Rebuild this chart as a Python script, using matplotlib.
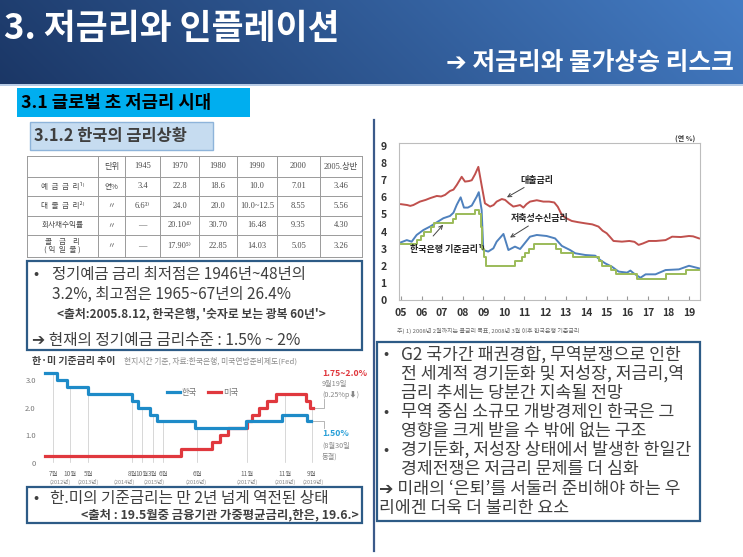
import numpy as np
import matplotlib
matplotlib.use('Agg')
import matplotlib.pyplot as plt
from matplotlib.patches import Rectangle
from matplotlib.lines import Line2D

W, H = 743, 557
KR = ['Noto Sans CJK KR', 'DejaVu Sans']
plt.rcParams['font.family'] = KR

# ---------------- data ----------------
# right chart: 대출금리 / 저축성수신금리 / 한국은행 기준금리 (연 %)
loan_x = [2005.0, 2005.3, 2005.45, 2005.6, 2005.92, 2006.2, 2006.41, 2006.74, 2006.95, 2007.14,
          2007.38, 2007.55, 2007.71, 2007.95, 2008.11, 2008.3, 2008.44, 2008.6, 2008.76, 2008.92,
          2009.08, 2009.33, 2009.5, 2009.65, 2009.9, 2010.06, 2010.25, 2010.46, 2010.62, 2010.79,
          2010.95, 2011.1, 2011.27, 2011.6, 2011.92, 2012.2, 2012.45, 2012.62, 2012.82, 2013.0,
          2013.3, 2013.6, 2013.96, 2014.3, 2014.6, 2014.8, 2015.0, 2015.15, 2015.33, 2015.74,
          2016.1, 2016.35, 2016.55, 2016.75, 2017.05, 2017.4, 2017.86, 2018.18, 2018.6, 2019.0,
          2019.2, 2019.49]
loan_y = [5.6, 5.55, 5.5, 5.55, 5.75, 5.85, 5.95, 6.08, 6.05, 6.14,
          6.37, 6.45, 6.72, 7.2, 6.92, 6.95, 7.0, 7.35, 7.78, 6.7,
          5.65, 5.46, 5.55, 5.75, 5.9, 5.85, 5.65, 5.46, 5.5, 5.55,
          5.4, 5.6, 5.75, 5.83, 5.75, 5.75, 5.7, 5.45, 4.97, 4.8,
          4.62, 4.55, 4.48, 4.42, 4.29, 4.05, 3.9, 3.7, 3.45, 3.41,
          3.45, 3.4, 3.22, 3.3, 3.45, 3.45, 3.5, 3.7, 3.68, 3.74,
          3.72, 3.6]
dep_x = [2005.0, 2005.28, 2005.52, 2005.76, 2006.09, 2006.41, 2006.74, 2007.06, 2007.38, 2007.55,
         2007.71, 2007.9, 2008.06, 2008.25, 2008.44, 2008.68, 2008.78, 2008.92, 2009.0, 2009.24,
         2009.49, 2009.65, 2009.98, 2010.22, 2010.54, 2010.79, 2010.95, 2011.27, 2011.6, 2012.08,
         2012.49, 2012.82, 2013.22, 2013.47, 2013.96, 2014.44, 2014.68, 2014.93, 2015.25, 2015.58,
         2015.99, 2016.15, 2016.31, 2016.64, 2016.89, 2017.37, 2017.86, 2018.51, 2019.0, 2019.49]
dep_y = [3.37, 3.5, 3.41, 3.8, 4.09, 4.29, 4.54, 4.78, 4.91, 5.1,
         5.56, 6.0, 5.4, 5.4, 5.52, 6.04, 6.3, 5.26, 2.92, 2.83,
         3.02, 3.41, 3.86, 2.92, 3.12, 2.98, 3.22, 3.7, 3.8, 3.74,
         3.6, 3.16, 2.92, 2.73, 2.63, 2.59, 2.34, 2.14, 1.95, 1.66,
         1.6, 1.72, 1.56, 1.3, 1.5, 1.5, 1.75, 1.79, 2.0, 1.85]
base_x = [2005.0, 2005.8, 2005.95, 2006.12, 2006.45, 2006.62, 2007.55, 2007.65, 2008.62, 2008.8,
          2008.87, 2008.95, 2009.05, 2009.12, 2010.55, 2010.88, 2011.05, 2011.2, 2011.45, 2012.55,
          2012.8, 2013.37, 2014.62, 2014.79, 2015.2, 2015.45, 2016.45, 2017.87, 2018.87, 2019.49]
base_y = [3.25, 3.5, 3.75, 4.0, 4.25, 4.5, 4.75, 5.0, 5.25, 5.0,
          4.25, 3.0, 2.5, 2.0, 2.25, 2.5, 2.75, 3.0, 3.25, 3.0,
          2.75, 2.5, 2.25, 2.0, 1.75, 1.5, 1.25, 1.5, 1.75, 1.75]
r_years = list(range(2005, 2020))
r_labels = ['05', '06', '07', '08', '09', '10', '11', '12', '13', '14', '15', '16', '17', '18', '19']
r_yticks = [0, 1, 2, 3, 4, 5, 6, 7, 8, 9]

# left chart: 한·미 기준금리
kr_x = [2012.28, 2012.6, 2012.88, 2013.48, 2014.68, 2014.86, 2015.19, 2015.37, 2016.43, 2017.85,
        2018.84, 2019.54, 2019.64]
kr_y = [3.25, 3.0, 2.75, 2.5, 2.25, 2.0, 1.75, 1.5, 1.25, 1.5,
        1.75, 1.5, 1.5]
us_x = [2012.28, 2016.05, 2016.9, 2017.12, 2017.35, 2017.87, 2018.02, 2018.2, 2018.43, 2018.68,
        2019.5, 2019.62, 2019.7]
us_y = [0.25, 0.5, 0.75, 1.0, 1.25, 1.5, 1.75, 2.0, 2.25, 2.5,
        2.25, 2.0, 2.0]
l_ticks = [2012.5, 2012.97, 2013.47, 2014.69, 2014.97, 2015.27, 2015.55, 2016.49, 2017.87, 2018.93, 2019.67]
l_months = ['7월', '10월', '5월', '8월', '10월', '3월', '6월', '6월', '11월', '11월', '9월']
l_year_pos = [2012.69, 2013.47, 2014.47, 2015.3, 2016.46, 2017.87, 2018.93, 2019.7]
l_years = ['(2012년)', '(2013년)', '(2014년)', '(2015년)', '(2016년)', '(2017년)', '(2018년)', '(2019년)']
l_yticks = [0, 1.0, 2.0, 3.0]
l_ytlabels = ['0', '1.0', '2.0', '3.0']

# table
tbl_head = ['', '단위', '1945', '1970', '1980', '1990', '2000', '2005.상반']
tbl_labels = ['예  금  금  리¹⁾', '대  출  금  리²⁾', '회사채수익률', '콜    금    리\n( 익  일  물 )']
tbl_units = ['연%', '〃', '〃', '〃']
tbl_vals = [['3.4', '22.8', '18.6', '10.0', '7.01', '3.46'],
            ['6.6³⁾', '24.0', '20.0', '10.0~12.5', '8.55', '5.56'],
            ['—', '20.10⁴⁾', '30.70', '16.48', '9.35', '4.30'],
            ['—', '17.90⁵⁾', '22.85', '14.03', '5.05', '3.26']]

# ---------------- helpers ----------------
fig = plt.figure(figsize=(W / 100, H / 100), dpi=100)
fig.patch.set_facecolor('white')


def add_ax(x0, y0, x1, y1, **kw):
    return fig.add_axes([x0 / W, 1 - y1 / H, (x1 - x0) / W, (y1 - y0) / H], **kw)


def txt(x, y, s, **kw):
    kw.setdefault('va', 'center')
    kw.setdefault('ha', 'left')
    return fig.text(x / W, 1 - y / H, s, **kw)


def rect(x0, y0, x1, y1, **kw):
    r = Rectangle((x0 / W, 1 - y1 / H), (x1 - x0) / W, (y1 - y0) / H,
                  transform=fig.transFigure, **kw)
    fig.patches.append(r)
    return r


def fline(xs, ys, **kw):
    fig.add_artist(Line2D([x / W for x in xs], [1 - y / H for y in ys],
                          transform=fig.transFigure, **kw))


GRAY = '#3f3f3f'
BOX = '#2d5b86'

# ---------------- header ----------------
axh = add_ax(0, 0, W, 84)
gx = np.linspace(0, 1, 400)[None, :]
gy = np.linspace(0, 1, 60)[:, None]
t = np.clip(0.9 * gx + 0.1 * (1 - gy), 0, 1)
c0 = np.array([0x1b, 0x37, 0x66]) / 255
c1 = np.array([0x44, 0x7c, 0xc4]) / 255
img = c0[None, None, :] * (1 - t[..., None]) + c1[None, None, :] * t[..., None]
axh.imshow(img, aspect='auto', extent=[0, 1, 0, 1])
axh.set_axis_off()
fline([0, W], [85, 85], color='#a9c1e0', lw=1.2)
txt(4, 29, '3. 저금리와 인플레이션', color='white', fontsize=25, fontweight='bold')
txt(446, 63, '➔ 저금리와 물가상승 리스크', color='white', fontsize=17.8, fontweight='bold')

# section box
rect(17, 88, 250, 117, facecolor='#00aeef', edgecolor='none')
txt(21, 102.5, '3.1 글로벌 초 저금리 시대', color='black', fontsize=12.8, fontweight='bold')

# sub-section box
rect(30, 122, 213, 150, facecolor='#c6dcf0', edgecolor='#8eb4da', lw=1)
txt(34, 136, '3.1.2 한국의 금리상황', color=GRAY, fontsize=11.8, fontweight='bold')

# ---------------- table ----------------
col_edges = [27, 98, 125, 160, 199, 237, 277, 320, 362]
row_edges = [156, 177, 196, 216, 235, 257]
for y in row_edges:
    fline([col_edges[0], col_edges[-1]], [y, y], color='#9a9a9a', lw=0.7)
for x in col_edges:
    fline([x, x], [row_edges[0], row_edges[-1]], color='#9a9a9a', lw=0.7)
SERIF = ['Liberation Serif', 'DejaVu Serif', 'Noto Sans CJK KR']
TC = '#4a4a4a'
for j, h in enumerate(tbl_head):
    cx = (col_edges[j] + col_edges[j + 1]) / 2
    cy = (row_edges[0] + row_edges[1]) / 2
    txt(cx, cy, h, ha='center', fontsize=6, color=TC, family=SERIF if j > 1 else KR)
for i in range(len(tbl_labels)):
    cy = (row_edges[i + 1] + row_edges[i + 2]) / 2
    txt((col_edges[0] + col_edges[1]) / 2, cy, tbl_labels[i], ha='center', fontsize=5.5,
        color=TC, linespacing=1.0)
    txt((col_edges[1] + col_edges[2]) / 2, cy, tbl_units[i], ha='center', fontsize=5.5, color=TC)
    for j, v in enumerate(tbl_vals[i]):
        cx = (col_edges[j + 2] + col_edges[j + 3]) / 2
        txt(cx, cy, v, ha='center', fontsize=6, color=TC, family=['Liberation Serif', 'DejaVu Sans'])

# ---------------- text box 1 ----------------
rect(27, 261, 362, 350, facecolor='none', edgecolor=BOX, lw=1.6)
txt(33, 274, '•', fontsize=11, color=GRAY)
txt(52, 274, '정기예금 금리 최저점은 1946년~48년의', fontsize=11.1, color=GRAY)
txt(52, 294, '3.2%, 최고점은 1965~67년의 26.4%', fontsize=11.1, color=GRAY)
txt(57, 314, "<출처:2005.8.12, 한국은행, '숫자로 보는 광복 60년'>", fontsize=8.5, color=GRAY,
    fontweight='bold')
txt(32, 340, '➔ 현재의 정기예금 금리수준 : 1.5% ~ 2%', fontsize=11.3, color=GRAY)

# ---------------- left chart ----------------
axl = add_ax(40, 370, 318, 468)
l_x0 = 2012.5 + (40 - 53) / 36.1
l_x1 = 2012.5 + (318 - 53) / 36.1
axl.set_xlim(l_x0, l_x1)
axl.set_ylim((463 - 468) / 27.67, (463 - 370) / 27.67)
for s in axl.spines.values():
    s.set_visible(False)
axl.set_xticks([])
axl.set_yticks(l_yticks)
axl.set_yticklabels(l_ytlabels, fontsize=5.5, color='#777777')
axl.tick_params(axis='y', length=0, pad=3)


def step_val(xs, ys, d):
    k = int(np.searchsorted(xs, d, side='right')) - 1
    k = max(0, min(k, len(ys) - 1))
    return ys[k]


for d in l_ticks:
    top = max(step_val(kr_x, kr_y, d), step_val(us_x, us_y, d))
    axl.plot([d, d], [0.05, top], color='#c8c8c8', lw=0.5, zorder=1)
axl.plot(us_x, us_y, drawstyle='steps-post', color='#e0383e', lw=2.3, zorder=3)
axl.plot(kr_x, kr_y, drawstyle='steps-post', color='#1e8bc8', lw=2.3, zorder=4)
for d, m in zip(l_ticks, l_months):
    axl.text(d, -0.02, m, transform=axl.get_xaxis_transform(), ha='center', va='top',
             fontsize=4.6, color='#666666')
for d, yl in zip(l_year_pos, l_years):
    axl.text(d, -0.115, yl, transform=axl.get_xaxis_transform(), ha='center', va='top',
             fontsize=4.0, color='#888888')
# leaders
axl.plot([us_x[-1], 2020.02, 2020.02], [us_y[-1], us_y[-1], 2.3], color='#aaaaaa', lw=0.6,
         clip_on=False)
axl.plot([kr_x[-1], 2020.02, 2020.02], [kr_y[-1], kr_y[-1], 1.25], color='#aaaaaa', lw=0.6,
         clip_on=False)

txt(32, 361, '한·미 기준금리 추이', fontsize=7.2, fontweight='bold', color='#444444')
txt(124, 361, '현지시간 기준, 자료:한국은행, 미국연방준비제도(Fed)', fontsize=5.6, color='#8a8a8a')
# legend
fline([167, 180], [392, 392], color='#1e8bc8', lw=2.3)
txt(182, 392, '한국', fontsize=6, color='#777777')
fline([208, 221], [392, 392], color='#e0383e', lw=2.3)
txt(223, 392, '미국', fontsize=6, color='#777777')
# right-side notes
txt(322, 373, '1.75~2.0%', fontsize=6.3, color='#e0383e', fontweight='bold')
txt(322, 384, '9월19일', fontsize=5.2, color='#888888')
txt(322, 395, '(0.25%p⬇)', fontsize=5.2, color='#888888')
txt(322, 434, '1.50%', fontsize=6.3, color='#2aa0d8', fontweight='bold')
txt(322, 446, '(8월30일', fontsize=5.2, color='#888888')
txt(322, 457, '동결)', fontsize=5.2, color='#888888')

# ---------------- bottom-left box ----------------
rect(27, 487, 362, 523, facecolor='none', edgecolor=BOX, lw=1.6)
txt(33, 499, '•', fontsize=11, color=GRAY)
txt(50, 499, '한.미의 기준금리는 만 2년 넘게 역전된 상태', fontsize=11.3, color=GRAY)
txt(359, 515, '<출처 : 19.5월중 금융기관 가중평균금리,한은, 19.6.>', ha='right', fontsize=8.9,
    color=GRAY, fontweight='bold')

# ---------------- divider ----------------
fline([374, 374], [120, 551], color='#3b5a8a', lw=1.6)

# ---------------- right chart ----------------
axr = add_ax(399, 143, 700, 300)
axr.plot(loan_x, loan_y, color='#c0504d', lw=1.4)
axr.plot(dep_x, dep_y, color='#4f81bd', lw=1.4)
axr.plot(base_x, base_y, color='#9bbb59', lw=1.4, drawstyle='steps-post')
axr.set_xlim(2005 - 2 / 20.57, 2019 + 11 / 20.57)
axr.set_ylim(0, 9.175)
axr.set_xticks(r_years)
axr.set_xticklabels(r_labels, fontsize=7.5, fontweight='bold', color='#333333')
axr.set_yticks(r_yticks)
axr.set_yticklabels([str(v) for v in r_yticks], fontsize=7.5, fontweight='bold', color='#333333')
axr.tick_params(axis='x', direction='in', length=3, color='#999999', pad=6)
axr.tick_params(axis='y', length=0, pad=9)
for s in axr.spines.values():
    s.set_color('#bdbdbd')
    s.set_linewidth(0.8)
txt(685, 138, '(연 %)', ha='center', fontsize=5, fontweight='bold', color='#333333')

ann_kw = dict(fontsize=6.5, fontweight='bold', color='#222222')
arrow_kw = dict(arrowstyle='->', color='#444444', lw=0.7, shrinkA=0, shrinkB=0)
axr.annotate('대출금리', xy=(2010.15, 6.0), xytext=(2010.8, 7.0), ha='left', va='center',
             arrowprops=arrow_kw, **ann_kw)
axr.annotate('저축성수신금리', xy=(2010.3, 3.65), xytext=(2010.35, 4.75), ha='left', va='center',
             arrowprops=arrow_kw, **ann_kw)
axr.annotate('한국은행 기준금리¹⁾', xy=(2007.05, 4.4), xytext=(2005.45, 2.95), ha='left',
             va='center', arrowprops=dict(arrowstyle='->', color='#444444', lw=0.7,
                                          shrinkA=6, shrinkB=0, relpos=(0.2, 1.0)), **ann_kw)
txt(397, 331, '주) 1) 2008년 2월까지는 콜금리 목표, 2008년 3월 이후 한국은행 기준금리', fontsize=4.3,
    color='#666666')

# ---------------- right text box ----------------
rect(377, 342, 700, 521, facecolor='none', edgecolor=BOX, lw=1.6)
FS = 12.4
rl = [
    (383, 401, 355, '•', 'G2 국가간 패권경합, 무역분쟁으로 인한'),
    (None, 401, 374, None, '전 세계적 경기둔화 및 저성장, 저금리,역'),
    (None, 401, 393, None, '금리 추세는 당분간 지속될 전망'),
    (383, 401, 412, '•', '무역 중심 소규모 개방경제인 한국은 그'),
    (None, 401, 431, None, '영향을 크게 받을 수 밖에 없는 구조'),
    (383, 401, 450, '•', '경기둔화, 저성장 상태에서 발생한 한일간'),
    (None, 401, 469, None, '경제전쟁은 저금리 문제를 더 심화'),
    (None, 379, 489, None, '➔ 미래의 ‘은퇴’를 서둘러 준비해야 하는 우'),
    (None, 379, 508, None, '리에겐 더욱 더 불리한 요소'),
]
for bx, tx, ty, b, s in rl:
    if b:
        txt(bx, ty, b, fontsize=11, color=GRAY)
    txt(tx, ty, s, fontsize=FS, color=GRAY)

fig.savefig('out.png', dpi=100, facecolor='white')
